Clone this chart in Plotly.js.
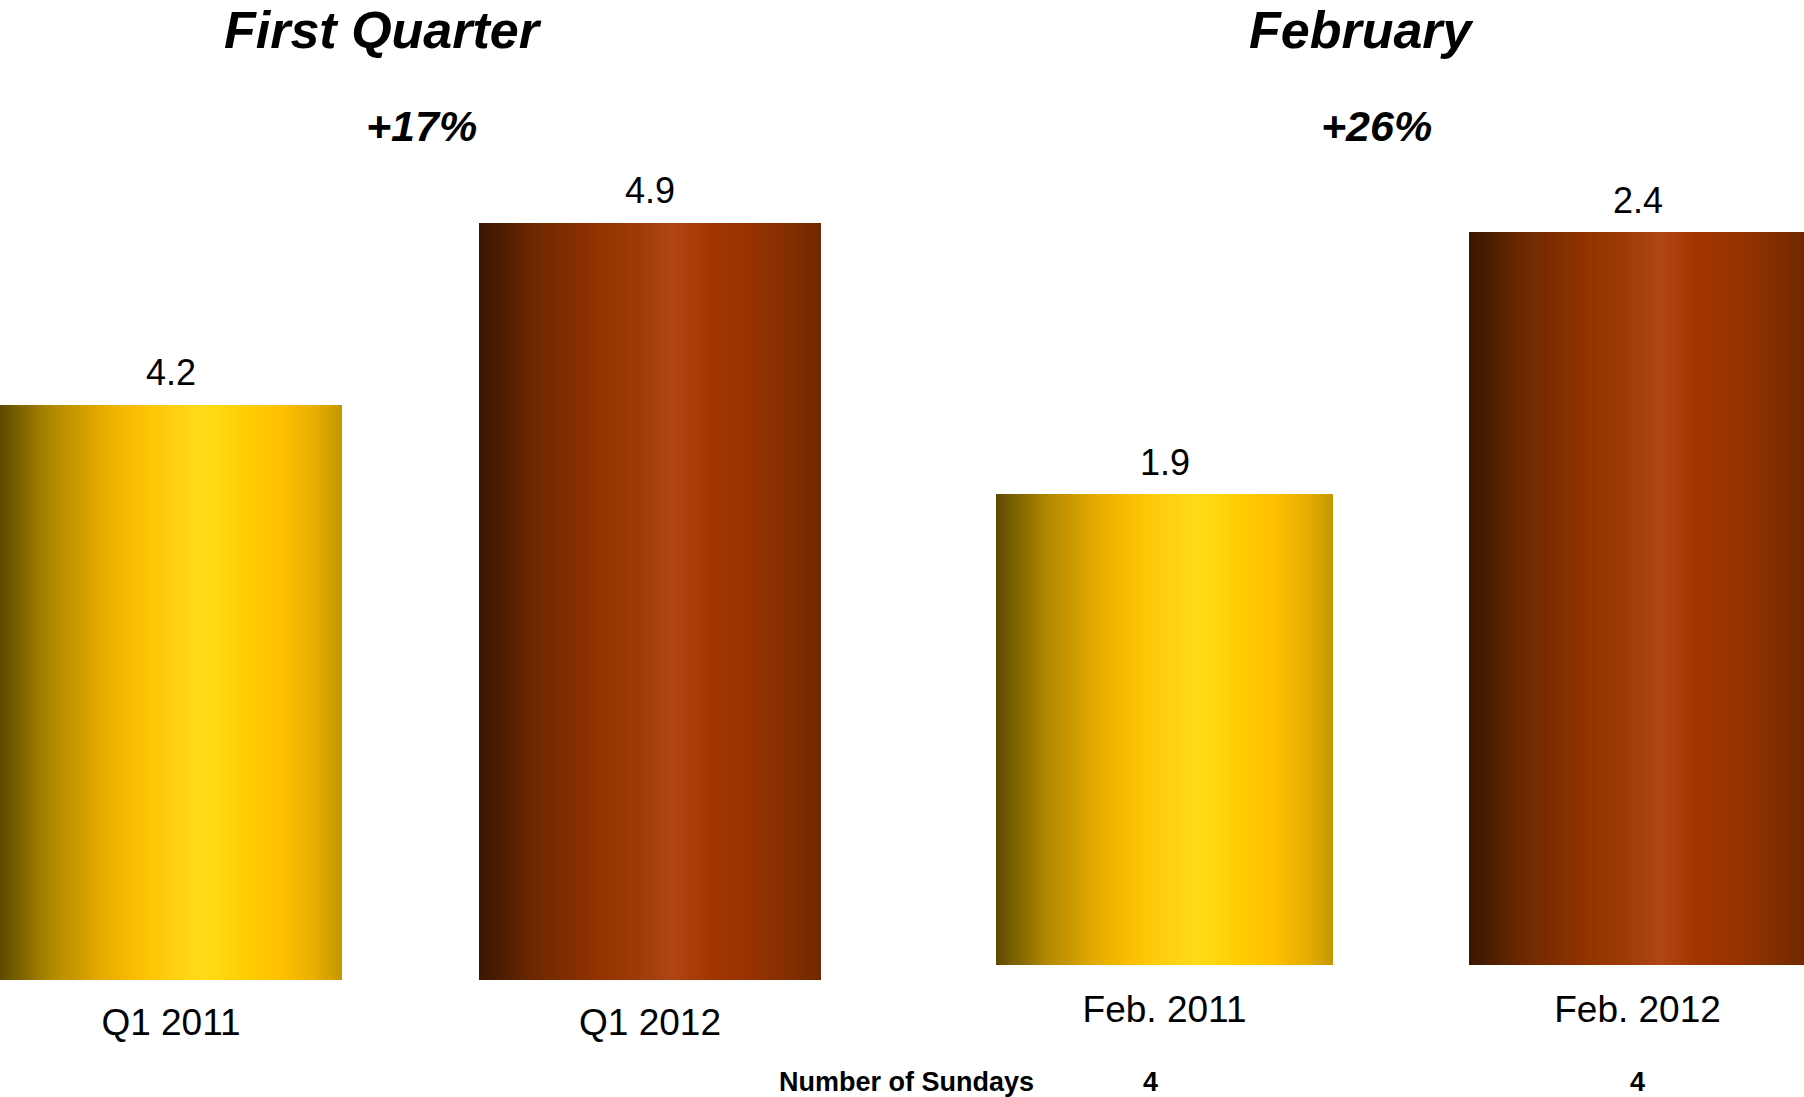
<!DOCTYPE html>
<html>
<head>
<meta charset="utf-8">
<script src="https://cdn.plot.ly/plotly-3.0.1.min.js"></script>
<style>
  html, body { margin: 0; padding: 0; background: #ffffff; }
  #chart { width: 1804px; height: 1097px; }
</style>
</head>
<body>
<div id="chart"></div>
<script>
// ---- data ----
const quarterCategories = ["Q1 2011", "Q1 2012"];
const quarterValues = [4.2, 4.9];
const febCategories = ["Feb. 2011", "Feb. 2012"];
const febValues = [1.9, 2.4];
const panelTitles = ["First Quarter", "February"];
const growthLabels = ["+17%", "+26%"];
const sundaysLabel = "Number of Sundays";
const sundaysCounts = [4, 4];

// ---- style ----
const FONT = "Arial, 'Liberation Sans', Helvetica, sans-serif";
const yellowStops = [
  [0.00, [92, 72, 0]], [0.05, [120, 95, 0]], [0.15, [176, 136, 0]],
  [0.30, [230, 172, 0]], [0.40, [252, 190, 0]], [0.50, [255, 207, 16]],
  [0.60, [255, 220, 24]], [0.72, [255, 205, 0]], [0.82, [255, 192, 0]],
  [0.92, [232, 175, 0]], [1.00, [196, 150, 0]]
];
const brownStops = [
  [0.00, [58, 23, 0]], [0.05, [72, 28, 0]], [0.16, [110, 40, 0]],
  [0.35, [146, 51, 0]], [0.47, [158, 60, 8]], [0.57, [176, 70, 22]],
  [0.67, [164, 54, 0]], [0.80, [150, 50, 0]], [0.92, [128, 46, 0]],
  [1.00, [112, 40, 0]]
];
function grad(stops, t) {
  for (let k = 1; k < stops.length; k++) {
    if (t <= stops[k][0]) {
      const a = stops[k - 1], b = stops[k];
      const f = (t - a[0]) / (b[0] - a[0]);
      const c = a[1].map((v, j) => Math.round(v + (b[1][j] - v) * f));
      return `rgb(${c[0]},${c[1]},${c[2]})`;
    }
  }
  const l = stops[stops.length - 1][1];
  return `rgb(${l[0]},${l[1]},${l[2]})`;
}

const N = 110;
function stripes(cats, vals, barW, xa, ya) {
  const out = [];
  const sw = barW / N;
  for (let i = 0; i < N; i++) {
    const t = (i + 0.5) / N;
    out.push({
      type: "bar", x: cats, y: vals, xaxis: xa, yaxis: ya,
      offset: -barW / 2 + i * sw,
      width: i === N - 1 ? sw : sw * 1.6,
      marker: { color: [grad(yellowStops, t), grad(brownStops, t)], line: { width: 0 } },
      hoverinfo: "skip", showlegend: false
    });
  }
  return out;
}

const traces = [
  ...stripes(quarterCategories, quarterValues, 0.714, "x", "y"),
  ...stripes(febCategories, febValues, 0.7125, "x2", "y2")
];

const H = 1097, W = 1804;
const py = p => 1 - p / H;
const px = p => p / W;

const annotations = [];
// value labels
quarterCategories.forEach((c, i) => annotations.push({
  x: c, y: quarterValues[i], xref: "x", yref: "y", text: String(quarterValues[i]),
  showarrow: false, yanchor: "bottom", yshift: 10, font: { family: FONT, size: 36, color: "#000" }
}));
febCategories.forEach((c, i) => annotations.push({
  x: c, y: febValues[i], xref: "x2", yref: "y2", text: String(febValues[i]),
  showarrow: false, yanchor: "bottom", yshift: 9, font: { family: FONT, size: 36, color: "#000" }
}));
// panel titles
const titleX = [383, 1362], growthX = [421, 1376];
panelTitles.forEach((t, i) => annotations.push({
  x: px(titleX[i]), y: py(30), xref: "paper", yref: "paper", text: "<b><i>" + t + "</i></b>",
  showarrow: false, xanchor: "center", yanchor: "middle", font: { family: FONT, size: 52, color: "#000" }
}));
growthLabels.forEach((t, i) => annotations.push({
  x: px(growthX[i]), y: py(126), xref: "paper", yref: "paper", text: "<b><i>" + t + "</i></b>",
  showarrow: false, xanchor: "center", yanchor: "middle", font: { family: FONT, size: 43, color: "#000" }
}));
// Sundays row
annotations.push({
  x: px(906), y: py(1082), xref: "paper", yref: "paper", text: "<b>" + sundaysLabel + "</b>",
  showarrow: false, xanchor: "center", yanchor: "middle", font: { family: FONT, size: 27, color: "#000" }
});
const sundaysX = [1150, 1637];
sundaysCounts.forEach((n, i) => annotations.push({
  x: px(sundaysX[i]), y: py(1082), xref: "paper", yref: "paper", text: "<b>" + n + "</b>",
  showarrow: false, xanchor: "center", yanchor: "middle", font: { family: FONT, size: 27, color: "#000" }
}));

const xCommon = {
  type: "category", showgrid: false, zeroline: false, showline: false,
  ticks: "outside", tickcolor: "rgba(0,0,0,0)", fixedrange: true,
  tickfont: { family: FONT, size: 37, color: "#000" }
};
const layout = {
  width: W, height: H,
  margin: { l: 0, r: 0, t: 0, b: 0 },
  paper_bgcolor: "#ffffff", plot_bgcolor: "#ffffff",
  barmode: "overlay", bargap: 0,
  showlegend: false,
  xaxis: Object.assign({}, xCommon, { domain: [0, px(866)], range: [-0.357, -0.357 + 866 / 479], ticklen: 10 }),
  xaxis2: Object.assign({}, xCommon, { domain: [px(902), 1], range: [-0.555, -0.555 + 902 / 473], anchor: "y2", ticklen: 12 }),
  yaxis: { domain: [py(980), 1], range: [2.0, 2.0 + 980 / 261.2], visible: false, fixedrange: true },
  yaxis2: { domain: [py(965), 1], range: [1.0, 1.0 + 965 / 523.5], visible: false, anchor: "x2", fixedrange: true },
  annotations: annotations
};

Plotly.newPlot("chart", traces, layout, { staticPlot: true, displayModeBar: false });
</script>
</body>
</html>
